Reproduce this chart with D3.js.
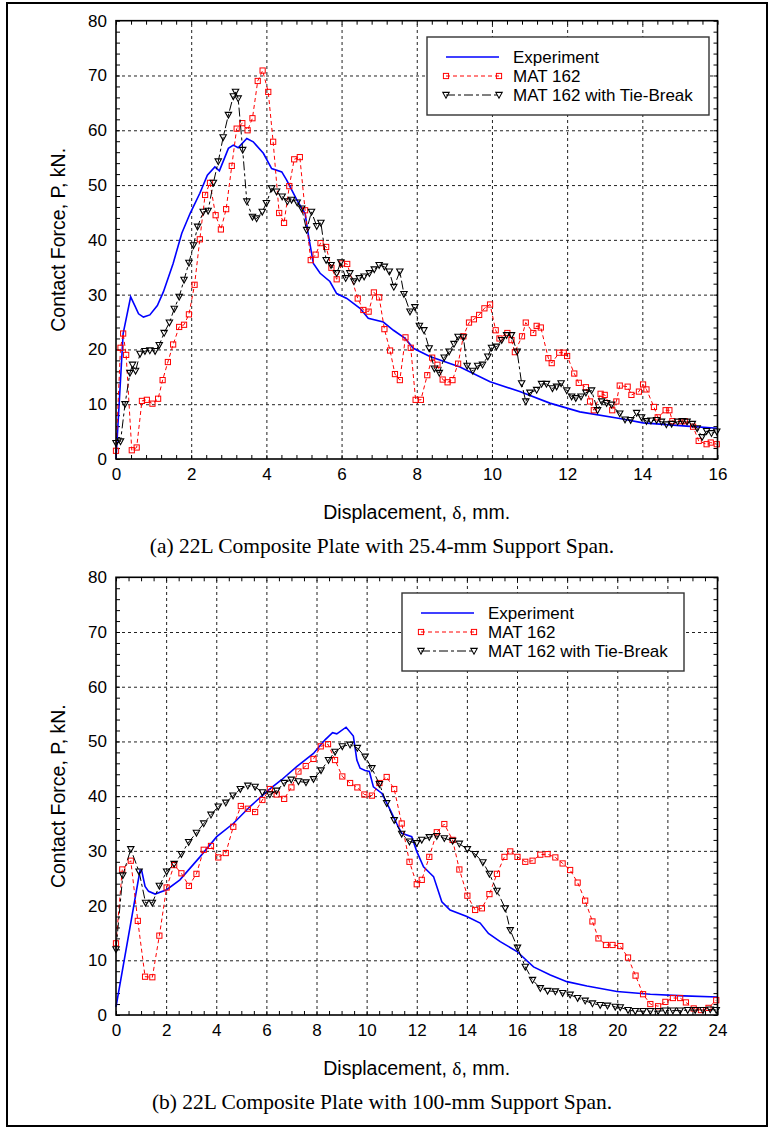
<!DOCTYPE html>
<html>
<head>
<meta charset="utf-8">
<script src="https://cdn.jsdelivr.net/npm/d3@7"></script>
<style>
body { margin: 0; background: #fff; }
svg text { font-family: "Liberation Sans", Arial, sans-serif; fill: #000; }
</style>
</head>
<body>
<svg id="fig" width="775" height="1130"></svg>
<script>
// (a) 25.4-mm support span
var topExperiment = [[0,0],[0.1,12],[0.19,22.9],[0.39,29.6],[0.5,28],[0.6,26.5],[0.73,25.9],[0.9,26.3],[1.1,28],[1.26,30.5],[1.52,35.7],[1.75,41.2],[1.97,44.8],[2.23,48.5],[2.43,51.8],[2.63,53.3],[2.75,52.6],[2.99,56.7],[3.12,57.3],[3.25,56.8],[3.48,58.5],[3.65,57.9],[3.92,55.8],[4.14,53],[4.41,52.4],[4.54,50.9],[4.81,47.3],[5.03,44.8],[5.11,41.2],[5.14,40],[5.25,35.7],[5.43,33.9],[5.69,32.4],[5.87,30.2],[6.14,29.3],[6.49,27.5],[6.71,25.7],[7.11,25],[7.38,23.5],[7.69,22],[7.91,20.2],[8.35,18.7],[9.15,16.8],[9.95,14.1],[10.74,12.3],[11.54,10.2],[12.34,8.6],[13.4,7.4],[14.02,6.6],[15.18,6],[16,5.6]]
var topMat162 = [[0,1.5],[0.12,20.3],[0.19,22.9],[0.27,19],[0.42,1.6],[0.55,2.1],[0.69,10.6],[0.82,10.8],[0.97,10.1],[1.12,11],[1.24,14.4],[1.38,17.7],[1.52,20.9],[1.68,24.1],[1.81,24.5],[1.94,26.4],[2.09,31.8],[2.23,40.1],[2.37,48.2],[2.5,50.4],[2.65,44.5],[2.79,41.9],[2.93,45.6],[3.08,53.5],[3.21,60.3],[3.36,61.3],[3.5,60],[3.63,62.2],[3.77,69],[3.9,70.9],[4.05,67],[4.18,57.9],[4.34,44.9],[4.47,43.1],[4.61,49.8],[4.74,54.7],[4.89,55.1],[5.03,45.4],[5.18,36.3],[5.31,37.3],[5.44,39.4],[5.59,38.7],[5.73,34.9],[5.87,32.8],[6.01,35.7],[6.15,35.6],[6.43,29.3],[6.58,27.2],[6.72,26.9],[6.86,30.4],[7,29.5],[7.14,23.7],[7.29,19.8],[7.42,15.5],[7.55,14.4],[7.7,22.2],[7.84,20.3],[7.97,10.8],[8.11,10.8],[8.28,15.3],[8.41,18.5],[8.55,17.2],[8.69,14.5],[8.82,14],[8.95,14.4],[9.1,17.4],[9.24,22.4],[9.39,24.9],[9.52,25.5],[9.66,26.3],[9.8,27.5],[9.95,28.2],[10.1,23.5],[10.2,22],[10.41,23],[10.52,21.7],[10.61,19.5],[10.8,22.4],[10.9,24.9],[11.1,23],[11.19,24.3],[11.3,24],[11.5,18.4],[11.59,17.5],[11.79,19.4],[11.91,19.4],[12,18.8],[12.19,15.6],[12.31,13.9],[12.5,13.1],[12.61,10.5],[12.71,8.9],[12.89,11.9],[13,11.7],[13.2,8.9],[13.31,10.5],[13.4,13.4],[13.61,13.2],[13.71,11.7],[13.91,12.3],[14.02,13.6],[14.11,12.7],[14.31,9.5],[14.41,7.6],[14.62,8.9],[14.72,8.9],[14.8,6.9],[15.04,6.9],[15.13,6.9],[15.35,5.9],[15.5,3.3],[15.71,2.7],[15.82,3],[15.98,2.7]]
var topTieBreak = [[0,2.9],[0.12,3.2],[0.24,10],[0.37,15.7],[0.44,17.2],[0.52,16.1],[0.64,19.2],[0.77,19.7],[0.9,19.8],[1.04,19.7],[1.15,20.8],[1.28,23],[1.42,24.9],[1.55,27.4],[1.68,29.6],[1.81,32.7],[1.94,35.8],[2.06,39],[2.17,42.4],[2.32,45.1],[2.45,45.3],[2.59,50.4],[2.72,54.3],[2.85,58.7],[2.99,62.8],[3.12,66.2],[3.18,67],[3.25,65.8],[3.37,56.4],[3.48,47],[3.63,44.2],[3.74,43.9],[3.89,45.1],[4,46.7],[4.14,49.4],[4.27,48.8],[4.42,47.9],[4.56,47],[4.67,47.3],[4.82,46.8],[4.94,45.7],[5.07,41.8],[5.2,45.1],[5.34,42.5],[5.45,43.1],[5.59,36.3],[5.72,35.4],[5.87,33.9],[5.98,35.9],[6.11,33],[6.22,33.9],[6.33,32.4],[6.47,33],[6.6,33.3],[6.74,33.9],[6.87,34.6],[7,35.4],[7.14,35.1],[7.27,34.2],[7.39,31.4],[7.55,34.2],[7.66,30.1],[7.82,26.9],[7.95,27.7],[8.07,24.3],[8.19,23.5],[8.33,20.2],[8.47,16.5],[8.6,15.7],[8.73,18.5],[8.86,19.6],[8.99,21],[9.1,22.3],[9.24,22.2],[9.34,17],[9.49,16.1],[9.62,17],[9.75,17.2],[9.89,18.7],[9.99,20.3],[10.12,20.5],[10.26,21.7],[10.39,22.6],[10.52,22.6],[10.67,19.6],[10.79,13.8],[10.9,10.5],[11.01,12.1],[11.19,12.6],[11.32,13.7],[11.45,13.7],[11.61,12.9],[11.72,13.2],[11.84,13.8],[11.99,12.5],[12.12,11.4],[12.23,11.1],[12.37,11.4],[12.5,12.1],[12.65,12.5],[12.81,8.9],[12.92,10.5],[13.05,10.2],[13.18,9.9],[13.4,8.3],[13.54,7.2],[13.69,7.1],[13.85,8.4],[13.98,7.6],[14.11,6.9],[14.23,7],[14.38,7.1],[14.51,6.8],[14.64,6.3],[14.78,6.4],[14.94,6.8],[15.07,6.9],[15.19,6.8],[15.33,6.4],[15.46,5.6],[15.59,4],[15.71,5.1],[15.84,4.7],[15.98,5]]

// (b) 100-mm support span
var bottomExperiment = [[0,1.5],[0.96,26.5],[1.02,26.5],[1.16,23.5],[1.3,22.6],[1.56,22.1],[2.02,22.9],[2.55,24.7],[3.35,28.9],[4.02,32.6],[4.68,35],[5.35,38.1],[6.08,41.1],[6.61,43],[7.21,45.4],[7.88,47.8],[8.34,50.3],[8.64,51.6],[8.81,51.4],[9.18,52.6],[9.47,51],[9.61,46.6],[9.74,45.1],[9.94,44.7],[10.11,44.5],[10.27,41.7],[10.61,40.5],[10.94,37.5],[11.2,35],[11.4,33.2],[11.8,32.6],[12,29.9],[12.27,27.1],[12.53,25.9],[12.67,25.3],[13,20.7],[13.33,19.2],[14,18],[14.53,16.8],[14.86,14.9],[15.33,13.4],[16,11.6],[16.66,8.8],[17.33,7.3],[17.99,6.1],[18.79,5.3],[19.99,4.3],[21.32,3.8],[22.65,3.5],[24,3.3]]
var bottomMat162 = [[0,13.1],[0.25,26.6],[0.59,28.2],[0.87,17.2],[1.16,7],[1.45,6.9],[1.73,14.5],[2.02,23.3],[2.32,27.4],[2.61,25.9],[2.91,23.6],[3.21,25.8],[3.5,30.2],[3.79,30.9],[4.08,28.8],[4.38,29.6],[4.68,34.4],[4.98,38.2],[5.26,37.7],[5.55,37.1],[5.84,39.3],[6.14,41.3],[6.41,40.3],[6.71,39.5],[7,41.6],[7.28,44.5],[7.57,45.5],[7.88,46.8],[8.17,49.1],[8.46,49.5],[8.74,46.6],[9.03,43.6],[9.34,42.4],[9.63,41.6],[9.91,40.3],[10.21,40.1],[10.51,42.4],[10.8,43.5],[11.1,41.3],[11.4,35],[11.71,28],[12,23.9],[12.2,24.7],[12.5,28.9],[12.8,33.4],[13.1,34.9],[13.43,32],[13.7,26.6],[14.02,21.8],[14.33,19.2],[14.6,19.5],[14.9,22.1],[15.2,25.8],[15.5,28.9],[15.73,29.9],[16.02,28.9],[16.33,28],[16.62,28.2],[16.93,29.3],[17.22,29.4],[17.53,28.8],[17.82,27.7],[18.12,26.5],[18.42,24.2],[18.72,20.9],[19.01,17.1],[19.25,14],[19.55,12.8],[19.81,12.8],[20.12,12.6],[20.43,10.5],[20.73,7.2],[21.03,3.8],[21.32,2],[21.63,1.6],[21.92,2.4],[22.22,3.1],[22.51,3.1],[22.74,2.3],[23.05,1.2],[23.34,0.9],[23.64,1.3],[23.95,2.7]]
var bottomTieBreak = [[0,12],[0.27,25.5],[0.59,30.3],[0.92,26.2],[1.18,20.5],[1.45,20.5],[1.73,23.6],[2.02,26.2],[2.32,27.6],[2.61,29.4],[2.9,31.6],[3.21,33.3],[3.5,35],[3.79,36.6],[4.08,38.1],[4.38,38.8],[4.67,40.1],[4.96,41.3],[5.26,41.9],[5.55,41.7],[5.84,40.7],[6.14,40.3],[6.41,41],[6.71,42.4],[6.99,43],[7.28,42.7],[7.58,42.5],[7.88,43.1],[8.18,44.7],[8.48,46.6],[8.74,48.1],[9.03,49.1],[9.34,49.4],[9.63,48.8],[9.94,47.2],[10.21,45.1],[10.51,42.2],[10.8,38.7],[11.1,35.6],[11.4,33.1],[11.71,31.7],[12,31.4],[12.2,32],[12.5,32.5],[12.8,32.7],[13.1,32.3],[13.43,31.8],[13.7,31.3],[14.02,30.3],[14.33,29.4],[14.64,27.9],[14.9,25.8],[15.2,22.7],[15.53,19.5],[15.73,15.5],[16.02,12.3],[16.33,8.8],[16.62,6.4],[16.93,4.9],[17.22,4.4],[17.53,4.3],[17.82,4],[18.12,3.7],[18.42,3.1],[18.72,2.6],[19.01,2.1],[19.32,1.8],[19.61,1.7],[19.92,1.5],[20.12,1.4],[20.43,0.9],[20.72,0.7],[21.03,0.7],[21.32,0.7],[21.63,0.7],[21.92,0.8],[22.22,0.8],[22.51,0.8],[22.81,0.9],[23.11,0.9],[23.42,0.9],[23.71,1],[23.95,0.9]]

var topXTicks = [0, 2, 4, 6, 8, 10, 12, 14, 16]
var bottomXTicks = [0, 2, 4, 6, 8, 10, 12, 14, 16, 18, 20, 22, 24]
var yTicks = [0, 10, 20, 30, 40, 50, 60, 70, 80]
var legendNames = ["Experiment", "MAT 162", "MAT 162 with Tie-Break"]
var xTitle = "Displacement, "
var yTitle = "Contact Force, P, kN."
var captions = ["(a) 22L Composite Plate with 25.4-mm Support Span.",
                "(b) 22L Composite Plate with 100-mm Support Span."]

var svg = d3.select("#fig")

// outer frame
svg.append("rect")
    .attr("x", 7).attr("y", 3)
    .attr("width", 760).attr("height", 1123)
    .attr("fill", "none").attr("stroke", "#000").attr("stroke-width", 2)

var styles = [
    {color: "#0000ff", width: 1.6, dash: null, marker: null},
    {color: "#ff0000", width: 1, dash: "4,3", marker: "square"},
    {color: "#000", width: 1, dash: "9,3,3,3", marker: "tri"}
]

function addMarker(g, kind, color, x, y) {
    if (kind == "square") {
        g.append("rect")
            .attr("x", x - 2.6).attr("y", y - 2.6)
            .attr("width", 5.2).attr("height", 5.2)
            .attr("fill", "none").attr("stroke", color).attr("stroke-width", 1)
    } else if (kind == "tri") {
        g.append("path")
            .attr("d", "M" + (x - 3.2) + "," + (y - 2.6) + "L" + (x + 3.2) + "," + (y - 2.6) + "L" + x + "," + (y + 3.2) + "Z")
            .attr("fill", "none").attr("stroke", color).attr("stroke-width", 1.1)
    }
}

function drawPanel(p) {
    var x = d3.scaleLinear().domain([0, p.xMax]).range([p.left, p.right])
    var y = d3.scaleLinear().domain([0, 80]).range([p.bottom, p.top])
    var w = p.right - p.left, h = p.bottom - p.top
    var g = svg.append("g")

    // grid
    g.append("g").attr("transform", "translate(0," + p.bottom + ")")
        .call(d3.axisBottom(x).tickValues(p.xTicks.slice(1, -1)).tickSize(-h).tickFormat(""))
        .call(s => s.select(".domain").remove())
        .selectAll("line").attr("stroke", "#222").attr("stroke-dasharray", "3,3")
    g.append("g").attr("transform", "translate(" + p.left + ",0)")
        .call(d3.axisLeft(y).tickValues(yTicks.slice(1, -1)).tickSize(-w).tickFormat(""))
        .call(s => s.select(".domain").remove())
        .selectAll("line").attr("stroke", "#222").attr("stroke-dasharray", "3,3")

    // minor ticks, inward on every side
    var xMinor = d3.range(0, p.xMax + 0.001, p.xMinorStep)
    var yMinor = d3.range(0, 80.001, 2)
    var sides = [
        [d3.axisBottom(x).tickValues(xMinor), "translate(0," + p.bottom + ")"],
        [d3.axisTop(x).tickValues(xMinor), "translate(0," + p.top + ")"],
        [d3.axisLeft(y).tickValues(yMinor), "translate(" + p.left + ",0)"],
        [d3.axisRight(y).tickValues(yMinor), "translate(" + p.right + ",0)"]
    ]
    sides.forEach(s => {
        g.append("g").attr("transform", s[1])
            .call(s[0].tickSize(-4).tickFormat(""))
            .call(a => a.select(".domain").remove())
            .selectAll("line").attr("stroke", "#000")
    })

    // tick labels
    g.append("g").attr("transform", "translate(0," + p.bottom + ")")
        .call(d3.axisBottom(x).tickValues(p.xTicks).tickSize(0).tickPadding(9).tickFormat(d3.format("d")))
        .call(a => a.select(".domain").remove())
        .selectAll("text").attr("font-size", 17).style("font-family", "Liberation Sans, Arial, sans-serif")
    g.append("g").attr("transform", "translate(" + p.left + ",0)")
        .call(d3.axisLeft(y).tickValues(yTicks).tickSize(0).tickPadding(9).tickFormat(d3.format("d")))
        .call(a => a.select(".domain").remove())
        .selectAll("text").attr("font-size", 17).style("font-family", "Liberation Sans, Arial, sans-serif")

    // series
    var line = d3.line().x(d => x(d[0])).y(d => y(d[1]))
    p.series.forEach((data, i) => {
        var st = styles[i]
        g.append("path").datum(data)
            .attr("d", line)
            .attr("fill", "none").attr("stroke", st.color)
            .attr("stroke-width", st.width)
            .attr("stroke-dasharray", st.dash)
        if (st.marker) {
            var mg = g.append("g")
            data.forEach(d => addMarker(mg, st.marker, st.color, x(d[0]), y(d[1])))
        }
    })

    // frame
    g.append("rect")
        .attr("x", p.left).attr("y", p.top).attr("width", w).attr("height", h)
        .attr("fill", "none").attr("stroke", "#000").attr("stroke-width", 1.6)

    // legend
    var lg = g.append("g").attr("transform", "translate(" + p.legendX + "," + p.legendY + ")")
    lg.append("rect").attr("width", 282).attr("height", 78)
        .attr("fill", "#fff").attr("stroke", "#333").attr("stroke-width", 1.4)
    legendNames.forEach((name, i) => {
        var st = styles[i]
        var ly = 20 + i * 19
        lg.append("line").attr("x1", 19).attr("x2", 72).attr("y1", ly).attr("y2", ly)
            .attr("stroke", st.color).attr("stroke-width", st.width)
            .attr("stroke-dasharray", st.dash)
        if (st.marker) {
            addMarker(lg, st.marker, st.color, 19, ly)
            addMarker(lg, st.marker, st.color, 72, ly)
        }
        lg.append("text").attr("x", 86).attr("y", ly).attr("dy", "0.36em")
            .attr("font-size", 17).text(name)
    })

    // titles
    var xt = g.append("text")
        .attr("x", (p.left + p.right) / 2).attr("y", p.bottom + 60)
        .attr("text-anchor", "middle").attr("font-size", 19.5)
    xt.append("tspan").text(xTitle)
    xt.append("tspan").style("font-family", "Liberation Serif, Times New Roman, serif").text("δ")
    xt.append("tspan").text(", mm.")

    g.append("text")
        .attr("transform", "translate(65," + ((p.top + p.bottom) / 2) + ") rotate(-90)")
        .attr("text-anchor", "middle").attr("font-size", 19.5)
        .text(yTitle)

    g.append("text")
        .attr("x", 382).attr("y", p.bottom + 94)
        .attr("text-anchor", "middle").attr("font-size", 21.5)
        .style("font-family", "Liberation Serif, Times New Roman, serif")
        .text(p.caption)
}

drawPanel({
    left: 116, right: 717.5, top: 20.7, bottom: 459,
    xMax: 16, xMinorStep: 0.4, xTicks: topXTicks,
    series: [topExperiment, topMat162, topTieBreak],
    legendX: 427, legendY: 37, caption: captions[0]
})
drawPanel({
    left: 116, right: 717.5, top: 577.3, bottom: 1015,
    xMax: 24, xMinorStep: 0.5, xTicks: bottomXTicks,
    series: [bottomExperiment, bottomMat162, bottomTieBreak],
    legendX: 402, legendY: 593, caption: captions[1]
})
</script>
</body>
</html>
